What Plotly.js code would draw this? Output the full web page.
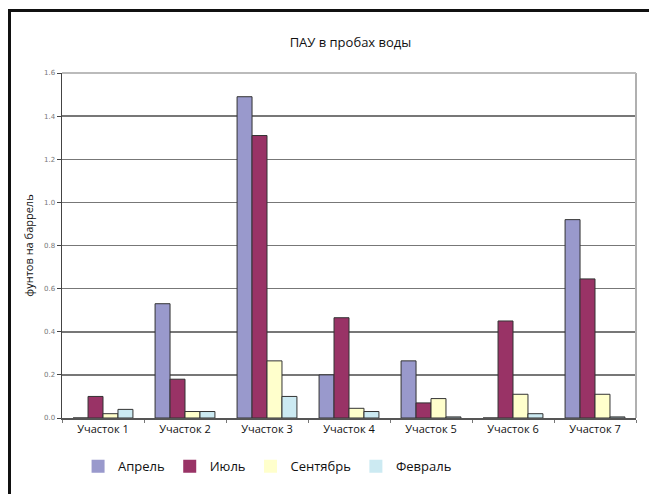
<!DOCTYPE html>
<html>
<head>
<meta charset="utf-8">
<script src="https://cdn.plot.ly/plotly-3.0.1.min.js"></script>
<style>
  html, body { margin: 0; padding: 0; background: #fff; }
  #wrap { position: relative; width: 649px; height: 494px; }
  #chart { width: 649px; height: 494px; }
  #frame { position: absolute; left: 8px; top: 9px; width: 641px; height: 485px;
           border-left: 3px solid #111; border-top: 3px solid #111; box-sizing: border-box;
           pointer-events: none; }
</style>
</head>
<body>
<div id="wrap">
  <div id="chart"></div>
  <div id="frame"></div>
</div>
<script>
const categories = ["Участок 1", "Участок 2", "Участок 3", "Участок 4", "Участок 5", "Участок 6", "Участок 7"];
const seriesNames = ["Апрель", "Июль", "Сентябрь", "Февраль"];
const april     = [0, 0.53, 1.49, 0.2, 0.265, 0, 0.92];
const july      = [0.1, 0.18, 1.31, 0.465, 0.07, 0.45, 0.645];
const september = [0.02, 0.03, 0.265, 0.045, 0.09, 0.11, 0.11];
const february  = [0.04, 0.03, 0.1, 0.03, 0.005, 0.02, 0.005];
const yTicks = [0, 0.2, 0.4, 0.6, 0.8, 1.0, 1.2, 1.4, 1.6];

const colors = ["#9999cc", "#993366", "#ffffcc", "#cceaf2"];
const values = [april, july, september, february];

const barTraces = values.map((v, i) => ({
  type: "bar",
  name: seriesNames[i],
  legendgroup: seriesNames[i],
  showlegend: false,
  x: categories,
  y: v,
  marker: { color: colors[i], line: { color: "#333333", width: 1 } }
}));

// legend-only entries (plain filled squares, as in the reference legend)
const legendTraces = seriesNames.map((n, i) => ({
  type: "scatter",
  mode: "markers",
  name: n,
  legendgroup: n,
  x: [null], y: [null],
  marker: { symbol: "square", size: 13, color: colors[i] }
}));

const layout = {
  width: 649, height: 494,
  paper_bgcolor: "#ffffff", plot_bgcolor: "#ffffff",
  margin: { l: 62, r: 13, t: 73, b: 76 },
  title: { text: "ПАУ в пробах воды", x: 0.54, xanchor: "center", y: 0.915, yanchor: "middle",
           font: { family: "Open Sans, Noto Sans, sans-serif", size: 13, color: "#111" } },
  barmode: "group",
  bargap: 0.27,
  bargroupgap: 0,
  xaxis: {
    type: "category",
    range: [-0.5, 6.5],
    tickson: "boundaries",
    ticks: "outside", ticklen: 3, tickcolor: "#777",
    showline: true, linecolor: "#555", linewidth: 1.5,
    showgrid: false,
    tickfont: { family: "Open Sans, Noto Sans, sans-serif", size: 11, color: "#111" }
  },
  yaxis: {
    range: [0, 1.6],
    tickvals: yTicks,
    tickformat: ".1f",
    ticks: "outside", ticklen: 4, tickcolor: "#444",
    showline: true, linecolor: "#444", linewidth: 1.5,
    showgrid: true, gridcolor: "#777", gridwidth: 1.5,
    zeroline: false,
    tickfont: { family: "DejaVu Sans, sans-serif", size: 7, color: "#777" },
    title: { text: "фунтов на баррель", standoff: 8,
             font: { family: "Open Sans, Noto Sans, sans-serif", size: 11, color: "#111" } }
  },
  legend: {
    orientation: "h", x: 0.028, xanchor: "left", y: -0.14, yanchor: "middle",
    font: { family: "Open Sans, Noto Sans, sans-serif", size: 13, color: "#111" },
    itemwidth: 30
  },
  shapes: [
    { type: "line", xref: "paper", yref: "paper", x0: 1, x1: 1, y0: 0, y1: 1,
      line: { color: "#b0b0b0", width: 2 } },
    { type: "line", xref: "paper", yref: "paper", x0: 0, x1: 1, y0: 1, y1: 1,
      line: { color: "#bbbbbb", width: 2 } }
  ],
  showlegend: true
};

Plotly.newPlot("chart", barTraces.concat(legendTraces), layout, { displayModeBar: false, staticPlot: true });
</script>
</body>
</html>
